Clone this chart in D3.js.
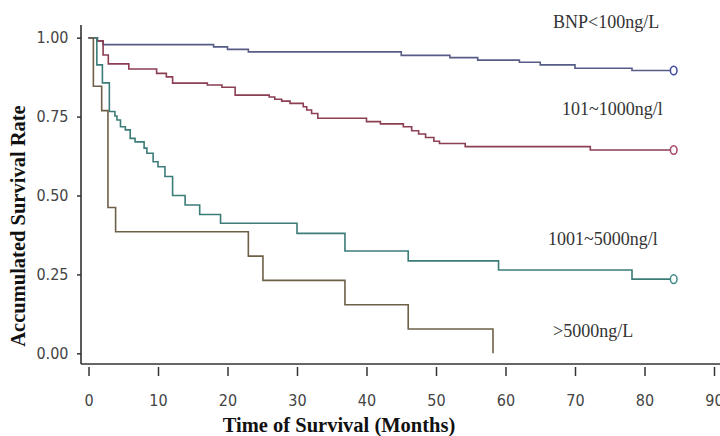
<!DOCTYPE html>
<html>
<head>
<meta charset="utf-8">
<script src="https://cdn.jsdelivr.net/npm/d3@7"></script>
<style>
  html, body { margin: 0; padding: 0; background: #fff; }
  svg { display: block; }
  .tick text { font-family: "DejaVu Sans Condensed", "DejaVu Sans", sans-serif; font-size: 16px; fill: #444; }
  .tick line { stroke: #333; stroke-width: 1.5; }
  .axis-title { font-family: "Liberation Serif", "Times New Roman", serif; font-weight: bold; font-size: 20.5px; fill: #111; }
  .group-label { font-family: "Liberation Serif", "Times New Roman", serif; font-size: 18px; fill: #333; }
</style>
</head>
<body>
<div id="chart"></div>
<script>
// Kaplan-Meier steps (months, survival rate)
const blueTimes = [0, 1.3, 2.1, 18, 20, 23, 45, 52, 56, 62, 65, 70, 78.2];
const blueSurv  = [1.00, 0.99, 0.978, 0.971, 0.963, 0.955, 0.944, 0.937, 0.929, 0.922, 0.914, 0.903, 0.896];

const redTimes = [0, 1.2, 2.1, 2.85, 5.8, 9.8, 11.2, 12.1, 17.1, 19.2, 21.1, 26, 26.8, 27.8, 29, 30.9,
                  31.4, 32.1, 33, 40, 42, 45.3, 46.5, 47.5, 48.5, 49.7, 50.5, 54.2, 72.2];
const redSurv  = [1.00, 0.99, 0.945, 0.917, 0.901, 0.887, 0.876, 0.856, 0.85, 0.843, 0.818, 0.812, 0.805,
                  0.799, 0.792, 0.781, 0.771, 0.76, 0.745, 0.734, 0.727, 0.718, 0.705, 0.695, 0.684,
                  0.672, 0.665, 0.655, 0.644];

const tealTimes = [0, 1.2, 2.0, 3.0, 3.8, 4.1, 4.6, 5.3, 6.0, 6.7, 8.0, 8.4, 9.3, 10.0, 11.0, 12.1,
                   13.9, 16, 19, 30, 36.9, 46, 59, 78.2];
const tealSurv  = [1.00, 0.914, 0.857, 0.766, 0.752, 0.739, 0.718, 0.708, 0.681, 0.670, 0.650, 0.634,
                   0.607, 0.591, 0.560, 0.50, 0.470, 0.440, 0.412, 0.380, 0.324, 0.293, 0.264, 0.235];

const brownTimes = [0, 0.7, 1.9, 2.8, 3.9, 23, 25.1, 36.9, 46, 58.2];
const brownSurv  = [1.00, 0.846, 0.769, 0.462, 0.385, 0.308, 0.231, 0.154, 0.077, 0.0];

const groupNames = ['BNP<100ng/L', '101~1000ng/l', '1001~5000ng/l', '>5000ng/L'];
const followUpEnd = 83.7;   // last follow-up, censored
const censorAt = 84.2;

const xTicks = [0, 10, 20, 30, 40, 50, 60, 70, 80, 90];
const yTicks = [0, 0.25, 0.5, 0.75, 1];

const width = 720, height = 436;

const svg = d3.select('#chart').append('svg')
  .attr('width', width)
  .attr('height', height);

const x = d3.scaleLinear().domain([0, 90]).range([88.5, 714]);
const y = d3.scaleLinear().domain([0, 1]).range([353.3, 37.7]);

// axis frame (L shape)
svg.append('line')
  .attr('x1', 81).attr('x2', 720).attr('y1', 364).attr('y2', 364)
  .attr('stroke', '#333').attr('stroke-width', 1.6);
svg.append('line')
  .attr('x1', 81).attr('x2', 81).attr('y1', 25).attr('y2', 364)
  .attr('stroke', '#333').attr('stroke-width', 1.6);

const xAxis = svg.append('g')
  .attr('transform', 'translate(0,367)')
  .call(d3.axisBottom(x).tickValues(xTicks).tickFormat(d3.format('d'))
    .tickSize(9).tickPadding(19).tickSizeOuter(0));
xAxis.select('.domain').remove();

const yAxis = svg.append('g')
  .attr('transform', 'translate(81,0)')
  .call(d3.axisLeft(y).tickValues(yTicks).tickFormat(d3.format('.2f'))
    .tickSize(4).tickPadding(8.5).tickSizeOuter(0));
yAxis.select('.domain').remove();

// axis titles
svg.append('text')
  .attr('class', 'axis-title')
  .attr('x', 339).attr('y', 432)
  .attr('text-anchor', 'middle')
  .text('Time of Survival (Months)');

svg.append('text')
  .attr('class', 'axis-title')
  .attr('transform', 'translate(25,226) rotate(-90)')
  .attr('text-anchor', 'middle')
  .text('Accumulated Survival Rate');

// curves
const groups = [
  { times: blueTimes,  surv: blueSurv,  color: '#565c86', marker: '#3f4ca0', censored: true },
  { times: redTimes,   surv: redSurv,   color: '#8c3e52', marker: '#a8466a', censored: true },
  { times: tealTimes,  surv: tealSurv,  color: '#3b7c78', marker: '#3f8a86', censored: true },
  { times: brownTimes, surv: brownSurv, color: '#6e6048', marker: null,      censored: false }
];

const line = d3.line()
  .x(d => x(d[0]))
  .y(d => y(d[1]))
  .curve(d3.curveStepAfter);

groups.forEach(g => {
  const pts = g.times.map((t, i) => [t, g.surv[i]]);
  if (g.censored) pts.push([followUpEnd, g.surv[g.surv.length - 1]]);

  svg.append('path')
    .datum(pts)
    .attr('d', line)
    .attr('fill', 'none')
    .attr('stroke', g.color)
    .attr('stroke-width', 1.6);

  if (g.censored) {
    svg.append('ellipse')
      .attr('cx', x(censorAt))
      .attr('cy', y(g.surv[g.surv.length - 1]))
      .attr('rx', 3.3).attr('ry', 4.3)
      .attr('fill', 'none')
      .attr('stroke', g.marker)
      .attr('stroke-width', 1.5);
  }
});

// group labels
const labelPos = [[553, 27.5], [562, 115], [548, 245], [553, 336.5]];
svg.selectAll('.group-label')
  .data(groupNames)
  .join('text')
    .attr('class', 'group-label')
    .attr('x', (d, i) => labelPos[i][0])
    .attr('y', (d, i) => labelPos[i][1])
    .text(d => d);
</script>
</body>
</html>
